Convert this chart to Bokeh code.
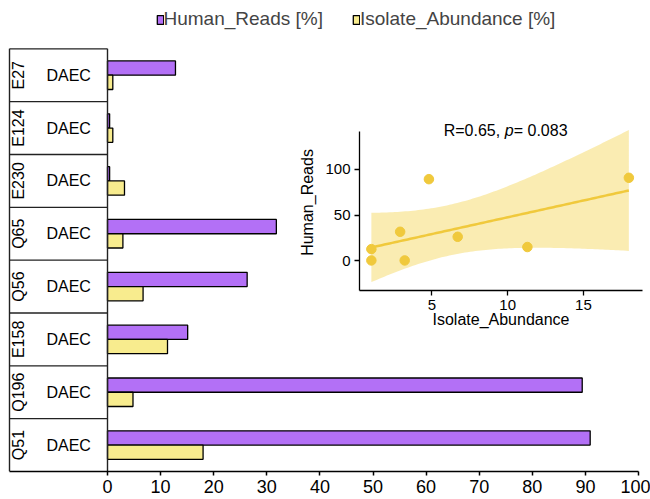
import numpy as np
from bokeh.plotting import figure
from bokeh.models import Range1d, FixedTicker, Legend, LegendItem, ColumnDataSource
from bokeh.transform import dodge
from bokeh.embed import file_html
from bokeh.resources import INLINE
from bokeh.core.properties import value

# ---------------- data ----------------
samples = ["E27", "E124", "E230", "Q65", "Q56", "E158", "Q196", "Q51"]
pathotype = ["DAEC", "DAEC", "DAEC", "DAEC", "DAEC", "DAEC", "DAEC", "DAEC"]
human_reads = [12.8, 0.4, 0.4, 31.8, 26.3, 15.1, 89.4, 90.9]
isolate_abundance = [1.0, 1.0, 3.2, 2.9, 6.7, 11.3, 4.8, 18.0]
series_names = ["Human_Reads [%]", "Isolate_Abundance [%]"]
x_ticks = [0, 10, 20, 30, 40, 50, 60, 70, 80, 90, 100]
inset_x_ticks = [5, 10, 15]
inset_y_ticks = [0, 50, 100]
inset_x_title = "Isolate_Abundance"
inset_y_title = "Human_Reads"
stat_parts = ["R=0.65, ", "p", "= 0.083"]
T_975_DF6 = 2.446912  # t quantile used for the 95% band (n-2 = 6 df)

# ---------------- style ----------------
FONT = "Liberation Sans"
PURPLE = "#B370F6"
YELLOW = "#F8EC8E"
GOLD = "#F0C93C"

W, H = 650, 499
FRAME_H = 471          # frame height (px); x axis drawn below
ROW_TOP_PX = 48.3      # top of table (px from top)
AX0 = 107              # px position of x = 0
PXU = 5.31             # px per unit
TABLE_LEFT_PX = 9
n = len(samples)
ROW_PX = (FRAME_H - ROW_TOP_PX) / n
XL = -AX0 / PXU
XR = XL + W / PXU
YT = n + 0.5 + ROW_TOP_PX / ROW_PX
TL = (TABLE_LEFT_PX - AX0) / PXU
BAR_H = 0.27

p = figure(width=W, height=H, x_range=Range1d(XL, XR), y_range=Range1d(0.5, YT),
           output_backend="svg", toolbar_location=None, y_axis_location=None,
           min_border_left=0, min_border_right=0, min_border_top=0,
           min_border_bottom=H - FRAME_H)
p.xgrid.visible = False
p.ygrid.visible = False
p.outline_line_color = None
p.background_fill_color = "white"
p.border_fill_color = "white"

ax = p.xaxis[0]
ax.ticker = FixedTicker(ticks=x_ticks)
ax.bounds = (TL, 100)
ax.major_tick_in = 0
ax.major_tick_out = 4
ax.minor_tick_in = 0
ax.minor_tick_out = 0
ax.axis_line_width = 1.5
ax.axis_line_color = "black"
ax.major_tick_line_width = 1.5
ax.major_tick_line_color = "black"
ax.major_label_text_font = FONT
ax.major_label_text_font_size = "18px"
ax.major_label_text_color = "black"
ax.major_label_standoff = 4

ys = [n - i for i in range(n)]
src = ColumnDataSource(dict(y=ys, sample=samples, ptype=pathotype,
                            human=human_reads, iso=isolate_abundance))

r1 = p.hbar(y=dodge("y", BAR_H / 2, range=p.y_range), left=0, right="human", height=BAR_H,
            fill_color=PURPLE, line_color="black", line_width=1.3, source=src)
r2 = p.hbar(y=dodge("y", -BAR_H / 2, range=p.y_range), left=0, right="iso", height=BAR_H,
            fill_color=YELLOW, line_color="black", line_width=1.3, source=src)

# table on the left
bounds_y = [k + 0.5 for k in range(1, n + 1)]
p.segment(x0=[TL] * len(bounds_y), x1=[0] * len(bounds_y), y0=bounds_y, y1=bounds_y,
          line_color="#222222", line_width=1.3)
p.segment(x0=[TL, 0], x1=[TL, 0], y0=[0.5, 0.5], y1=[n + 0.5, n + 0.5],
          line_color="#222222", line_width=1.4)
p.text(x=(18 - AX0) / PXU, y="y", text="sample", angle=np.pi / 2, source=src,
       text_align="center", text_baseline="middle", text_font=value(FONT),
       text_font_size="16px", text_color="black")
p.text(x=(68.2 - AX0) / PXU, y="y", text="ptype", source=src,
       text_align="center", text_baseline="middle", text_font=value(FONT),
       text_font_size="16px", text_color="black")

LEG_H = 22
legend = Legend(items=[LegendItem(label=series_names[0], renderers=[r1]),
                       LegendItem(label=series_names[1], renderers=[r2])],
                orientation="horizontal", location=(155.5, FRAME_H - 8 - LEG_H),
                padding=0, margin=0, spacing=29, label_standoff=0,
                glyph_width=8, glyph_height=11, label_height=LEG_H,
                label_text_font=FONT, label_text_font_size="19px",
                border_line_color=None, background_fill_alpha=0)
p.add_layout(legend)

# ---------------- inset scatter ----------------
QW, QH = 350, 225
q = figure(width=QW, height=QH, x_range=Range1d(0.217, 18.9), y_range=Range1d(-32.5, 160.2),
           output_backend="svg", toolbar_location=None,
           min_border_left=62, min_border_right=4, min_border_top=0, min_border_bottom=49)
q.grid.visible = False
q.outline_line_color = None
q.background_fill_alpha = 0
q.border_fill_alpha = 0

for a, ticks, title in ((q.xaxis[0], inset_x_ticks, inset_x_title),
                        (q.yaxis[0], inset_y_ticks, inset_y_title)):
    a.ticker = FixedTicker(ticks=ticks)
    a.major_tick_in = 0
    a.major_tick_out = 5
    a.minor_tick_in = 0
    a.minor_tick_out = 0
    a.axis_line_color = "black"
    a.axis_line_width = 1.3
    a.major_tick_line_color = "black"
    a.major_tick_line_width = 1.3
    a.major_label_text_font = FONT
    a.major_label_text_font_size = "15px"
    a.major_label_text_color = "black"
    a.major_label_standoff = 4
    a.axis_label = title
    a.axis_label_text_font = FONT
    a.axis_label_text_font_size = "16px"
    a.axis_label_text_font_style = "normal"
    a.axis_label_text_color = "black"
q.xaxis[0].axis_label_standoff = -2
q.yaxis[0].axis_label_standoff = 6
q.yaxis[0].bounds = (-32.5, 141.6)
q.yaxis[0].major_label_orientation = "horizontal"

xs = np.array(isolate_abundance)
yv = np.array(human_reads)
slope, intercept = np.polyfit(xs, yv, 1)
grid = np.linspace(xs.min(), xs.max(), 100)
fit = intercept + slope * grid
resid = yv - (intercept + slope * xs)
s = np.sqrt((resid ** 2).sum() / (len(xs) - 2))
se = s * np.sqrt(1 / len(xs) + (grid - xs.mean()) ** 2 / ((xs - xs.mean()) ** 2).sum())
q.varea(x=grid, y1=fit - T_975_DF6 * se, y2=fit + T_975_DF6 * se,
        fill_color="#EFC000", fill_alpha=0.3)
q.line(grid, fit, line_color=GOLD, line_width=2.5)
q.scatter(xs, yv, size=9.5, fill_color=GOLD, line_color=GOLD)

STAT_X, STAT_Y = 5.776, 142.7
q.text(x=[STAT_X], y=[STAT_Y], text=[stat_parts[0]], text_font=value(FONT), text_font_size="16px",
       text_baseline="alphabetic", text_color="black")
q.text(x=[STAT_X], y=[STAT_Y], text=[stat_parts[1]], x_offset=61, text_font=value(FONT),
       text_font_size="16px", text_font_style="italic", text_baseline="alphabetic", text_color="black")
q.text(x=[STAT_X], y=[STAT_Y], text=[stat_parts[2]], x_offset=70, text_font=value(FONT),
       text_font_size="16px", text_baseline="alphabetic", text_color="black")

q.styles = {"position": "absolute", "left": "296px", "top": "114px"}

open("out.html", "w").write(file_html([p, q], INLINE))
